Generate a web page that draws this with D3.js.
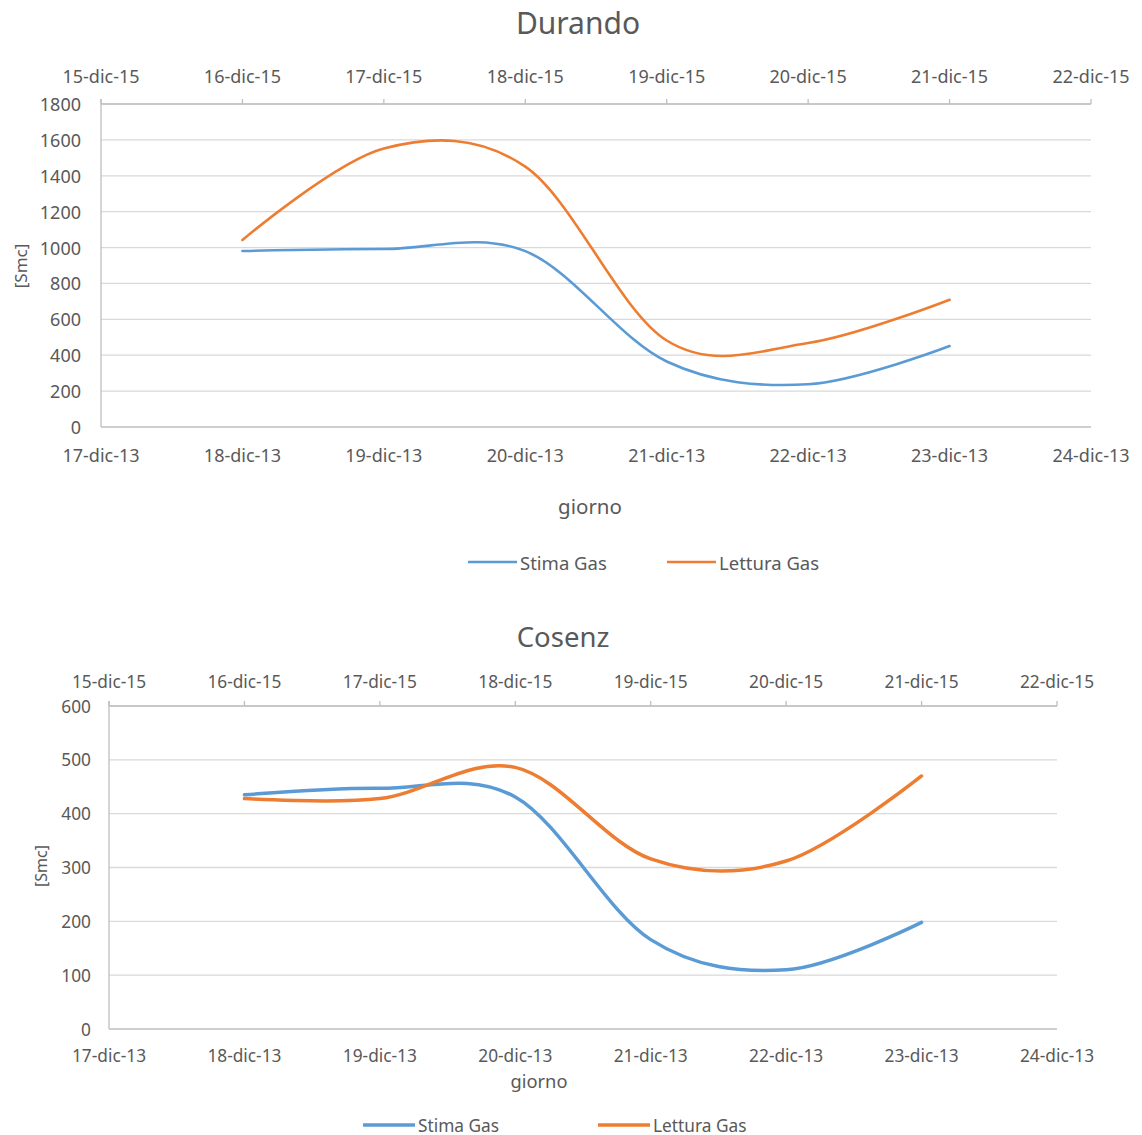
<!DOCTYPE html>
<html>
<head>
<meta charset="utf-8">
<script src="https://cdn.jsdelivr.net/npm/d3@7"></script>
<style>
  body { margin: 0; background: #fff; }
  text { font-family: "Noto Sans", sans-serif; fill: #595959; }
</style>
</head>
<body>
<div id="chart"></div>
<script>
// categories / tick labels
const bottomDays = ["17-dic-13", "18-dic-13", "19-dic-13", "20-dic-13", "21-dic-13", "22-dic-13", "23-dic-13", "24-dic-13"];
const topDays = ["15-dic-15", "16-dic-15", "17-dic-15", "18-dic-15", "19-dic-15", "20-dic-15", "21-dic-15", "22-dic-15"];
const dataDays = ["18-dic-13", "19-dic-13", "20-dic-13", "21-dic-13", "22-dic-13", "23-dic-13"];

// Durando series
const durandoStima = [981, 992, 980, 365, 238, 451];
const durandoLettura = [1042, 1552, 1451, 482, 468, 709];
const durandoTicks = [0, 200, 400, 600, 800, 1000, 1200, 1400, 1600, 1800];

// Cosenz series
const cosenzStima = [435, 447, 431, 166, 110, 198];
const cosenzLettura = [428, 428, 486, 316, 312, 470];
const cosenzTicks = [0, 100, 200, 300, 400, 500, 600];

const seriesNames = ["Stima Gas", "Lettura Gas"];
const colors = ["#5B9BD5", "#ED7D31"];

const svg = d3.select("#chart")
    .append("svg")
    .attr("width", 1142)
    .attr("height", 1135);

function drawChart(o) {
    const g = svg.append("g");

    const x = d3.scalePoint().domain(bottomDays).range([o.left, o.right]);
    const xTop = d3.scalePoint().domain(topDays).range([o.left, o.right]);
    const y = d3.scaleLinear().domain([0, d3.max(o.ticks)]).range([o.bottom, o.top]);

    // gridlines
    g.selectAll(".grid")
        .data(o.ticks.filter(d => d > 0))
        .join("line")
        .attr("x1", o.left).attr("x2", o.right)
        .attr("y1", d => y(d)).attr("y2", d => y(d))
        .attr("stroke", "#d9d9d9")
        .attr("stroke-width", 1.3);

    // left axis line
    g.append("line")
        .attr("x1", o.left).attr("x2", o.left)
        .attr("y1", o.top - 5).attr("y2", o.bottom)
        .attr("stroke", "#bfbfbf").attr("stroke-width", 1.3);

    // bottom axis line
    g.append("line")
        .attr("x1", o.left).attr("x2", o.right)
        .attr("y1", o.bottom).attr("y2", o.bottom)
        .attr("stroke", "#bfbfbf").attr("stroke-width", 1.5);

    // top axis line + ticks
    g.append("line")
        .attr("x1", o.left).attr("x2", o.right)
        .attr("y1", o.top).attr("y2", o.top)
        .attr("stroke", "#bfbfbf").attr("stroke-width", 1.5);
    g.selectAll(".ttick")
        .data(topDays)
        .join("line")
        .attr("x1", d => xTop(d)).attr("x2", d => xTop(d))
        .attr("y1", o.top).attr("y2", o.top - 5)
        .attr("stroke", "#bfbfbf").attr("stroke-width", 1.3);

    // tick labels
    g.selectAll(".tlab")
        .data(topDays)
        .join("text")
        .attr("x", d => xTop(d))
        .attr("y", o.topLabelY)
        .attr("text-anchor", "middle")
        .attr("dominant-baseline", "central")
        .style("font-size", o.tickSize + "px")
        .text(d => d);
    g.selectAll(".blab")
        .data(bottomDays)
        .join("text")
        .attr("x", d => x(d))
        .attr("y", o.bottomLabelY)
        .attr("text-anchor", "middle")
        .attr("dominant-baseline", "central")
        .style("font-size", o.tickSize + "px")
        .text(d => d);
    g.selectAll(".ylab")
        .data(o.ticks)
        .join("text")
        .attr("x", o.yLabelX)
        .attr("y", d => y(d))
        .attr("text-anchor", "end")
        .attr("dominant-baseline", "central")
        .style("font-size", o.tickSize + "px")
        .text(d => d);

    // titles
    g.append("text")
        .attr("x", o.titleX).attr("y", o.titleY)
        .attr("text-anchor", "middle")
        .attr("dominant-baseline", "central")
        .style("font-size", o.titleSize + "px")
        .text(o.title);
    g.append("text")
        .attr("x", o.xTitleX).attr("y", o.xTitleY)
        .attr("text-anchor", "middle")
        .attr("dominant-baseline", "central")
        .style("font-size", o.axisTitleSize + "px")
        .text("giorno");
    g.append("text")
        .attr("transform", `translate(${o.yTitleX},${o.yTitleY}) rotate(-90)`)
        .attr("text-anchor", "middle")
        .attr("dominant-baseline", "central")
        .style("font-size", o.yTitleSize + "px")
        .text("[Smc]");

    // smooth lines (Excel-like)
    const line = d3.line()
        .x((d, i) => x(dataDays[i]))
        .y(d => y(d))
        .curve(d3.curveCardinal.tension(0));
    o.series.forEach((s, i) => {
        g.append("path")
            .datum(s)
            .attr("fill", "none")
            .attr("stroke", colors[i])
            .attr("stroke-width", o.lineWidth)
            .attr("stroke-linecap", "round")
            .attr("d", line);
    });

    // legend
    seriesNames.forEach((name, i) => {
        const lx = o.legendX[i];
        g.append("line")
            .attr("x1", lx).attr("x2", lx + o.legendLen)
            .attr("y1", o.legendY).attr("y2", o.legendY)
            .attr("stroke", colors[i])
            .attr("stroke-width", o.lineWidth);
        g.append("text")
            .attr("x", lx + o.legendLen + 3)
            .attr("y", o.legendY)
            .attr("dominant-baseline", "central")
            .style("font-size", o.legendSize + "px")
            .text(name);
    });
}

drawChart({
    title: "Durando",
    series: [durandoStima, durandoLettura],
    ticks: durandoTicks,
    left: 101, right: 1091, top: 104, bottom: 427,
    topLabelY: 76, bottomLabelY: 455, yLabelX: 81,
    titleX: 578, titleY: 22, titleSize: 30,
    xTitleX: 590, xTitleY: 506, axisTitleSize: 20.5,
    yTitleX: 20, yTitleY: 266, yTitleSize: 17,
    tickSize: 18, lineWidth: 2.6,
    legendX: [468, 667], legendLen: 49, legendY: 562, legendSize: 18.5
});

drawChart({
    title: "Cosenz",
    series: [cosenzStima, cosenzLettura],
    ticks: cosenzTicks,
    left: 109, right: 1057, top: 706, bottom: 1029,
    topLabelY: 681, bottomLabelY: 1055, yLabelX: 91,
    titleX: 563, titleY: 636, titleSize: 27.5,
    xTitleX: 539, xTitleY: 1080, axisTitleSize: 18.3,
    yTitleX: 41, yTitleY: 866, yTitleSize: 16,
    tickSize: 17.3, lineWidth: 3.5,
    legendX: [363, 598], legendLen: 52, legendY: 1125, legendSize: 17.3
});
</script>
</body>
</html>
